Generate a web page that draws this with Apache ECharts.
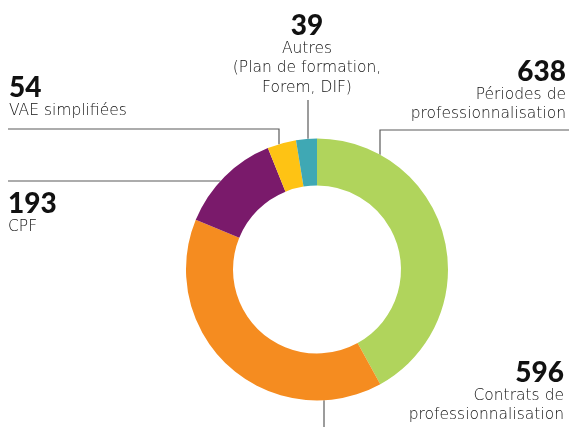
<!DOCTYPE html>
<html>
<head>
<meta charset="utf-8">
<script src="https://cdn.jsdelivr.net/npm/echarts@6/dist/echarts.min.js"></script>
<style>
    html, body { margin: 0; padding: 0; background: #fff; }
    #main { width: 569px; height: 427px; }
</style>
</head>
<body>
<div id="main"></div>
<script>
    // données
    const names = ['Périodes de\nprofessionnalisation', 'Contrats de\nprofessionnalisation', 'CPF', 'VAE simplifiées', 'Autres\n(Plan de formation,\nForem, DIF)'];
    const values = [638, 596, 193, 54, 39];
    const colors = ['#b0d45c', '#f58c20', '#7a1a6b', '#fec314', '#3fa8b4'];

    // géométrie de l'anneau
    const cx = 317, cy = 269.5, rIn = 84, rOut = 131;
    const arcY = (x, s) => cy + s * Math.sqrt(rOut * rOut - (x - cx) * (x - cx));
    const arcX = (y, s) => cx + s * Math.sqrt(rOut * rOut - (y - cy) * (y - cy));

    // position des étiquettes et des traits
    const labelPos = [
        { x: 566, y: 59, align: 'right', line: () => [[380, arcY(380, -1)], [380, 130], [569, 130]] },
        { x: 564, y: 360, align: 'right', line: () => [[324, arcY(324, 1)], [324, 414], [324, 427]] },
        { x: 8, y: 191, align: 'left', line: () => [[arcX(181, -1), 181], [100, 181], [8, 181]] },
        { x: 9, y: 75, align: 'left', line: () => [[279, arcY(279, -1)], [279, 129], [8, 129]] },
        { x: 307, y: 13, align: 'center', line: () => [[308, arcY(308, -1)], [308, 120], [308, 100]] },
    ];

    const chart = echarts.init(document.getElementById('main'));
    chart.setOption({
        animation: false,
        series: [
            {
                type: 'pie',
                center: [cx, cy],
                radius: [rIn, rOut],
                startAngle: 90,
                clockwise: true,
                avoidLabelOverlap: false,
                emphasis: { disabled: true },
                itemStyle: { borderWidth: 0 },
                label: {
                    show: true,
                    position: 'outside',
                    formatter: (p) => '{num|' + p.value + '}\n' + p.name.split('\n').map((s) => '{txt|' + s + '}').join('\n'),
                    rich: {
                        num: { fontFamily: 'Lato', fontWeight: 900, fontSize: 28, lineHeight: 26, color: '#111' },
                        txt: { fontFamily: 'DejaVu Sans', fontWeight: 200, fontSize: 15.5, lineHeight: 19.5, color: '#111' },
                    },
                },
                labelLine: {
                    show: true,
                    lineStyle: { color: '#5a5a5a', width: 1.2 },
                },
                labelLayout: (params) => {
                    const p = labelPos[params.dataIndex];
                    return {
                        x: p.x,
                        y: p.y,
                        align: p.align,
                        verticalAlign: 'top',
                        labelLinePoints: p.line(),
                    };
                },
                data: values.map((v, i) => ({ value: v, name: names[i], itemStyle: { color: colors[i] } })),
            },
        ],
    });
</script>
</body>
</html>
